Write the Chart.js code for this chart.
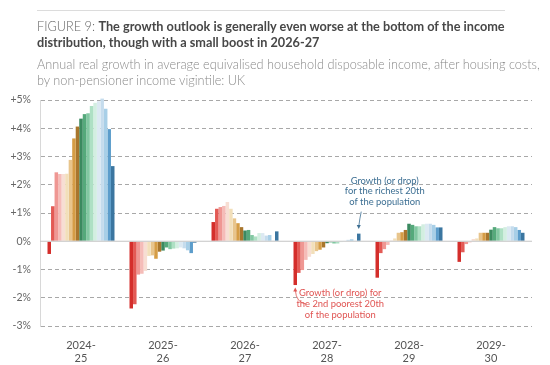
<!DOCTYPE html>
<html>
<head>
<meta charset="utf-8">
<script src="https://cdn.jsdelivr.net/npm/chart.js@4.4.0/dist/chart.umd.min.js"></script>
<style>
  body { margin: 0; background: #fff; font-family: Lato, 'Open Sans', sans-serif; }
  #wrap { position: relative; width: 550px; height: 365px; overflow: hidden; }
  #chart { position: absolute; left: 0; top: 0; }
  #rule { position: absolute; left: 37px; top: 10px; width: 468px; height: 1px; background: #dcdcdc; }
  #title { position: absolute; left: 37px; top: 18px; font-size: 14px; line-height: 16px; color: #474747; font-weight: 700; white-space: nowrap; }
  #title .fig { font-weight: 300; color: #666; }
  #subtitle { position: absolute; left: 37px; top: 56px; font-size: 12.3px; line-height: 16px; color: #8a8a8a; font-weight: 300; white-space: nowrap; }
  .line { display: inline-block; }
</style>
</head>
<body>
<div id="wrap">
  <canvas id="chart" width="550" height="365"></canvas>
  <div id="rule"></div>
  <div id="title"><span class="line" id="t1"><span class="fig">FIGURE 9: </span>The growth outlook is generally even worse at the bottom of the income</span><br>distribution, though with a small boost in 2026-27</div>
  <div id="subtitle"><span class="line" id="s1">Annual real growth in average equivalised household disposable income, after housing costs,</span><br>by non-pensioner income vigintile: UK</div>
</div>
<script>
// years on the x axis
const years = [['2024-', '25'], ['2025-', '26'], ['2026-', '27'], ['2027-', '28'], ['2028-', '29'], ['2029-', '30']];

// growth (%) for vintiles 2 (2nd poorest) .. 20 (richest), one array per year
const g2425 = [-0.45, 1.24, 2.44, 2.38, 2.38, 2.39, 2.88, 3.64, 4.06, 4.34, 4.50, 4.53, 4.79, 4.90, 4.96, 5.05, 4.69, 3.97, 2.66];
const g2526 = [-2.38, -2.23, -1.18, -1.15, -1.05, -0.52, -0.50, -0.62, -0.37, -0.33, -0.22, -0.28, -0.26, -0.25, -0.22, -0.25, -0.32, -0.42, -0.05];
const g2627 = [0.68, 1.15, 1.21, 1.25, 1.39, 1.15, 0.81, 0.64, 0.50, 0.38, 0.40, 0.22, 0.17, 0.29, 0.29, 0.20, 0.22, 0.02, 0.35];
const g2728 = [-1.55, -1.12, -1.02, -0.66, -0.55, -0.45, -0.35, -0.30, -0.22, -0.07, -0.04, -0.08, -0.08, -0.03, 0.02, 0.05, 0.07, 0.02, 0.27];
const g2829 = [-1.29, -0.42, -0.28, -0.13, 0.03, 0.10, 0.30, 0.32, 0.40, 0.62, 0.58, 0.53, 0.53, 0.60, 0.62, 0.62, 0.58, 0.49, 0.49];
const g2930 = [-0.73, -0.39, -0.10, -0.04, 0.08, 0.10, 0.30, 0.30, 0.30, 0.41, 0.50, 0.46, 0.46, 0.50, 0.53, 0.53, 0.50, 0.40, 0.30];

const yTicks = [-3, -2, -1, 0, 1, 2, 3, 4, 5];

const colours = [
  '#d42e2b', '#e35a55', '#ef9793', '#f5bcb8', '#f7ded3', '#f2dfba', '#e8c58c', '#d59d45', '#a8762d',
  '#3b8a60', '#55a97b', '#82c8a2', '#aee0c4', '#d3eee1', '#dce9f2', '#c5dced', '#a8cfe7', '#5c9dcb', '#3b76a0'
];

// fit the heading lines to the width they take in the original
function fit(boxId, lineId, target) {
  const box = document.getElementById(boxId);
  const w = document.getElementById(lineId).getBoundingClientRect().width;
  const size = parseFloat(getComputedStyle(box).fontSize);
  box.style.fontSize = (size * target / w).toFixed(2) + 'px';
}
fit('title', 't1', 468);
fit('subtitle', 's1', 503);

const allYears = [g2425, g2526, g2627, g2728, g2829, g2930];
const datasets = colours.map((c, i) => ({
  label: 'Vintile ' + (i + 2),
  data: allYears.map(y => y[i]),
  backgroundColor: c,
  borderWidth: 0,
  clip: false,
  categoryPercentage: 0.817,
  barPercentage: 1.0
}));

function arrow(ctx, pts, colour, up) {
  ctx.save();
  ctx.strokeStyle = colour;
  ctx.fillStyle = colour;
  ctx.lineWidth = 0.8;
  ctx.beginPath();
  ctx.moveTo(pts[0][0], pts[0][1]);
  ctx.quadraticCurveTo(pts[1][0], pts[1][1], pts[2][0], pts[2][1]);
  ctx.stroke();
  const [hx, hy] = pts[2];
  const d = up ? -1 : 1;
  ctx.beginPath();
  ctx.moveTo(hx, hy + d * 2.5);
  ctx.lineTo(hx - 2, hy - d * 1.5);
  ctx.lineTo(hx + 2, hy - d * 1.5);
  ctx.closePath();
  ctx.fill();
  ctx.restore();
}

const notes = {
  id: 'notes',
  afterDatasetsDraw(chart) {
    const ctx = chart.ctx;
    const zero = chart.scales.y.getPixelForValue(0);
    const area = chart.chartArea;
    // zero line
    ctx.save();
    ctx.strokeStyle = '#c4c4c4';
    ctx.lineWidth = 1.2;
    ctx.beginPath();
    ctx.moveTo(area.left, zero);
    ctx.lineTo(area.right, zero);
    ctx.stroke();
    ctx.restore();

    const rich = chart.getDatasetMeta(18).data[3];
    const poor = chart.getDatasetMeta(0).data[3];

    ctx.save();
    ctx.font = '400 9.4px Lato';
    ctx.textAlign = 'center';
    ctx.textBaseline = 'middle';

    const blue = '#3d6f93';
    ctx.fillStyle = blue;
    ['Growth (or drop)', 'for the richest 20th', 'of the population'].forEach((t, i) => {
      ctx.fillText(t, rich.x + 26, rich.y - 53 + i * 10.8);
    });
    arrow(ctx, [[rich.x + 2.5, rich.y - 22], [rich.x + 1, rich.y - 15], [rich.x, rich.y - 7]], blue, false);

    const red = '#e05553';
    ctx.fillStyle = red;
    ['Growth (or drop) for', 'the 2nd poorest 20th', 'of the population'].forEach((t, i) => {
      ctx.fillText(t, poor.x + 45, poor.y + 8 + i * 11);
    });
    arrow(ctx, [[poor.x + 11, poor.y + 19], [poor.x + 1, poor.y + 18], [poor.x, poor.y + 5]], red, true);
    ctx.restore();
  }
};

new Chart(document.getElementById('chart'), {
  type: 'bar',
  data: { labels: years, datasets: datasets },
  options: {
    responsive: false,
    animation: false,
    layout: { padding: { top: 100, right: 18, bottom: 0, left: 0 } },
    plugins: { legend: { display: false }, tooltip: { enabled: false } },
    scales: {
      x: {
        grid: { display: false },
        border: { display: false },
        ticks: { color: '#555', font: { family: 'Lato', size: 11 }, padding: 5, maxRotation: 0 },
        afterFit: s => { s.height = 39; }
      },
      y: {
        min: yTicks[0],
        max: yTicks[yTicks.length - 1],
        afterBuildTicks: s => { s.ticks = yTicks.map(v => ({ value: v })); },
        grid: {
          color: c => (c.tick && c.tick.value === 0 ? 'rgba(0,0,0,0)' : '#a8a8a8'),
          lineWidth: 1,
          drawTicks: false
        },
        border: { display: true, color: '#d8d8d8', dash: [4, 3] },
        ticks: {
          color: '#666',
          font: { family: 'Lato', size: 10.5 },
          padding: 9,
          callback: v => (v > 0 ? '+' + v + '%' : v + '%')
        },
        afterFit: s => { s.width = 40; }
      }
    }
  },
  plugins: [notes]
});
</script>
</body>
</html>
